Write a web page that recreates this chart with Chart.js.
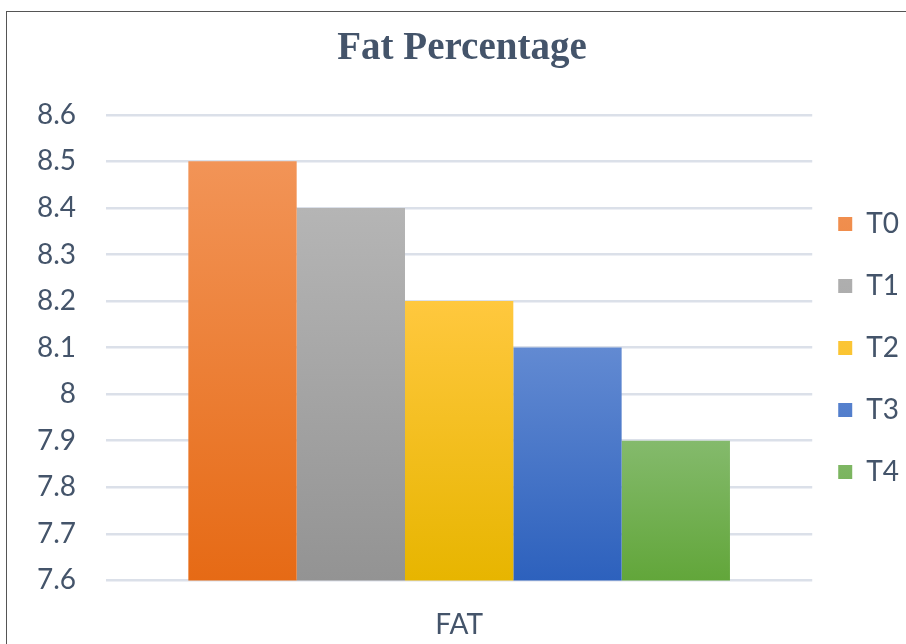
<!DOCTYPE html>
<html>
<head>
<meta charset="utf-8">
<script src="https://cdn.jsdelivr.net/npm/chart.js@4/dist/chart.umd.min.js"></script>
<style>
  html, body { margin: 0; padding: 0; background: #fff; }
  #wrap { position: relative; width: 906px; height: 644px; overflow: hidden; }
  #frame { position: absolute; left: 6px; top: 11px; width: 920px; height: 660px; border: 1.5px solid #555; box-sizing: border-box; pointer-events: none; }
  canvas { position: absolute; left: 0; top: 0; }
</style>
</head>
<body>
<div id="wrap">
  <canvas id="c" width="906" height="644"></canvas>
  <div id="frame"></div>
</div>
<script>
const categories = ['FAT'];
const seriesNames = ['T0', 'T1', 'T2', 'T3', 'T4'];
const seriesValues = [8.5, 8.4, 8.2, 8.1, 7.9];
const yTicks = [7.6, 7.7, 7.8, 7.9, 8, 8.1, 8.2, 8.3, 8.4, 8.5, 8.6];

const topColors = ['#F29457', '#B5B5B5', '#FFC83E', '#628AD2', '#84BA6C'];
const bottomColors = ['#E66A15', '#939393', '#E7B500', '#2D61BD', '#62A63A'];
const textColor = '#44546A';

function barGradient(i) {
  return function (ctx) {
    const chart = ctx.chart;
    const area = chart.chartArea;
    if (!area || !chart.scales.y) return topColors[i];
    const yTop = chart.scales.y.getPixelForValue(seriesValues[i]);
    const g = chart.ctx.createLinearGradient(0, yTop, 0, area.bottom);
    g.addColorStop(0, topColors[i]);
    g.addColorStop(1, bottomColors[i]);
    return g;
  };
}

const datasets = seriesNames.map((name, i) => ({
  label: name,
  data: [seriesValues[i]],
  backgroundColor: barGradient(i),
  borderWidth: 0,
  categoryPercentage: 0.767,
  barPercentage: 1.0
}));

// nudge the legend block to match the reference placement
const legendNudge = {
  id: 'legendNudge',
  afterLayout(chart) {
    const lg = chart.legend;
    if (!lg) return;
    lg.left -= 8; lg.right -= 8;
    lg.top += 8; lg.bottom += 8;
  }
};

new Chart(document.getElementById('c'), {
  type: 'bar',
  data: { labels: categories, datasets: datasets },
  plugins: [legendNudge],
  options: {
    responsive: false,
    animation: false,
    devicePixelRatio: 1,
    layout: { padding: { left: 7, right: -11, top: 18, bottom: -18 } },
    plugins: {
      title: {
        display: true,
        text: 'Fat Percentage',
        color: textColor,
        font: { family: "'Liberation Serif', 'Times New Roman', serif", size: 39, weight: 'bold' },
        padding: { top: 8, bottom: 42 }
      },
      legend: {
        position: 'right',
        labels: {
          color: textColor,
          font: { family: 'Lato, sans-serif', size: 28 },
          boxWidth: 14,
          boxHeight: 14,
          padding: 34
        }
      },
      tooltip: { enabled: false }
    },
    scales: {
      x: {
        grid: { display: false },
        border: { display: false },
        ticks: {
          color: textColor,
          font: { family: 'Lato, sans-serif', size: 28 },
          padding: 20
        }
      },
      y: {
        min: 7.6,
        max: 8.6,
        afterBuildTicks: (axis) => { axis.ticks = yTicks.map(v => ({ value: v })); },
        grid: { color: '#DBE0E9', lineWidth: 2.5, drawTicks: false },
        border: { display: false },
        ticks: {
          color: textColor,
          font: { family: 'Lato, sans-serif', size: 28 },
          padding: 30,
          callback: (v) => String(Math.round(v * 10) / 10)
        }
      }
    }
  }
});
</script>
</body>
</html>
